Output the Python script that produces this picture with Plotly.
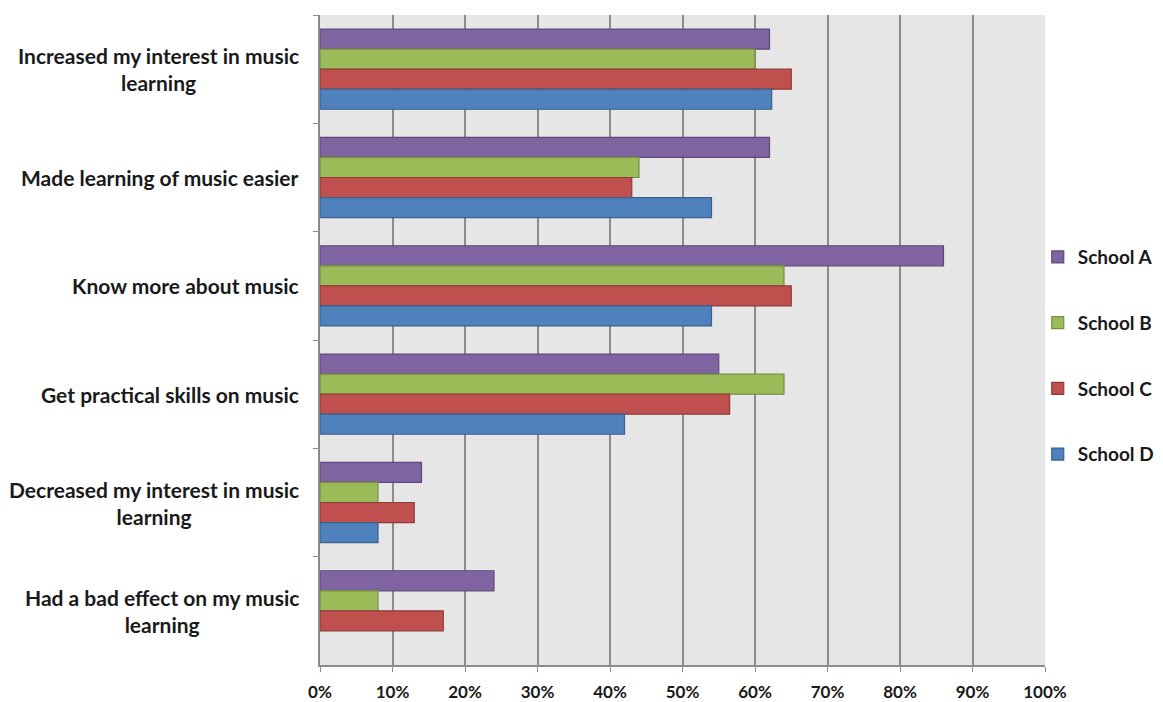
import plotly.graph_objects as go

categories = [
    "Increased my interest in music<br>learning",
    "Made learning of music easier",
    "Know more about music",
    "Get practical skills on music",
    "Decreased my interest in music<br>learning",
    "Had a bad effect on my music<br>learning",
]
school_a = [62, 62, 86, 55, 14, 24]
school_b = [60, 44, 64, 64, 8, 8]
school_c = [65, 43, 65, 56.5, 13, 17]
school_d = [62.3, 54, 54, 42, 8, None]
series_names = ["School A", "School B", "School C", "School D"]
x_ticks = [0, 10, 20, 30, 40, 50, 60, 70, 80, 90, 100]

fills = ["#8064A2", "#9BBB59", "#C0504D", "#4F81BD"]
lines = ["#5E4A7A", "#76903F", "#8E3B39", "#3A6190"]

font_fam = "Lato, 'Open Sans', sans-serif"

fig = go.Figure()
for name, vals, fc, lc in zip(series_names, [school_a, school_b, school_c, school_d], fills, lines):
    fig.add_trace(go.Bar(
        y=categories, x=vals, name=name, orientation="h",
        marker=dict(color=fc, line=dict(color=lc, width=1.2)),
        legendgroup=name,
    ))

for cat in categories:
    fig.add_annotation(
        x=0, xref="paper", xanchor="right", xshift=-19,
        y=cat, yref="y", yanchor="middle",
        text=cat, showarrow=False, align="center",
        font=dict(family=font_fam, size=21, color="#1a1a1a", weight="bold"),
    )

fig.update_layout(
    width=1163, height=702,
    margin=dict(l=320, r=118, t=15, b=37, autoexpand=False),
    paper_bgcolor="white",
    plot_bgcolor="#E6E6E6",
    barmode="group",
    bargap=0.26,
    bargroupgap=0,
    showlegend=True,
    legend=dict(
        x=0.99, xanchor="left", y=0.476, yanchor="middle",
        font=dict(family=font_fam, size=19, color="#1a1a1a", weight="bold"),
        tracegroupgap=38,
        traceorder="grouped",
        bgcolor="rgba(0,0,0,0)",
    ),
    xaxis=dict(
        range=[0, 100],
        tickvals=x_ticks,
        ticktext=[f"{v}%" for v in x_ticks],
        showgrid=True, gridcolor="#8C8C8C", gridwidth=1.5,
        showline=True, linecolor="#8C8C8C", linewidth=1.5,
        ticks="outside", ticklen=5, tickcolor="#8C8C8C",
        ticklabelstandoff=6,
        tickfont=dict(family=font_fam, size=17, color="#1a1a1a", weight="bold"),
        zeroline=False,
        fixedrange=True,
    ),
    yaxis=dict(
        autorange="reversed",
        showticklabels=False,
        showline=True, linecolor="#8C8C8C", linewidth=1.5,
        ticks="outside", ticklen=5, tickcolor="#8C8C8C",
        tickson="boundaries",
        showgrid=False,
    ),
)

fig.write_html("out.html")
